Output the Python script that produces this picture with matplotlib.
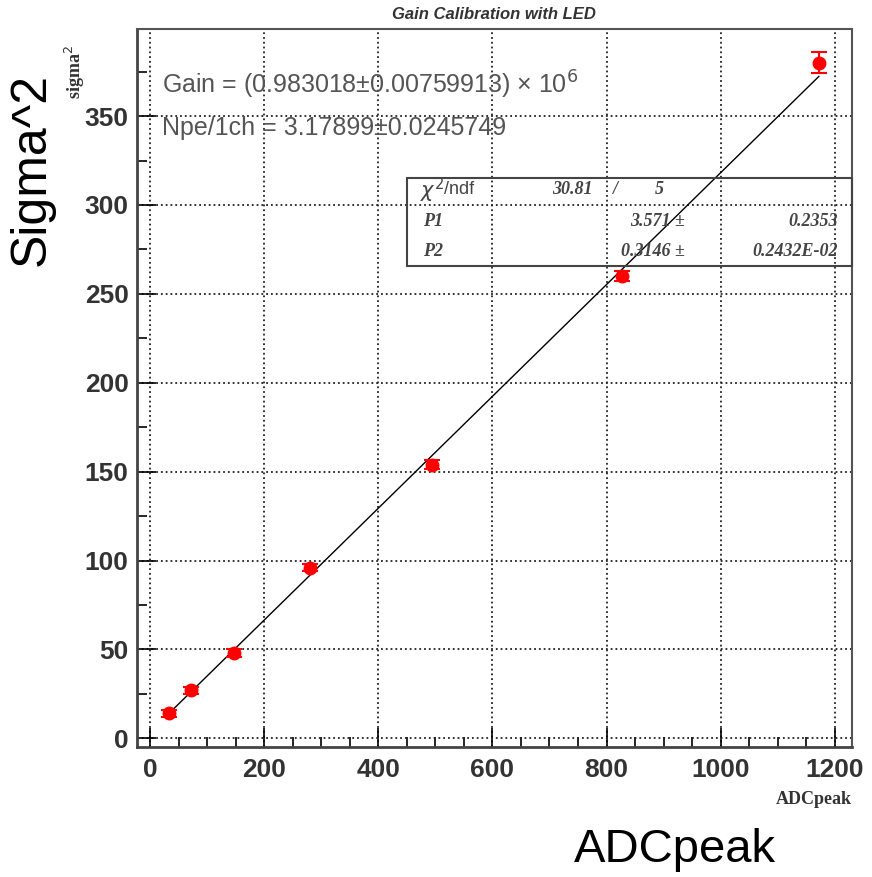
import matplotlib.pyplot as plt
import numpy as np

# data
adc_peak = [33, 72, 147, 280, 494, 827, 1172]
sigma_sq = [14, 27, 48, 96, 154, 260, 380]
sigma_err = [2, 2, 2, 2, 2.5, 3, 6]

# fit result (pol1): y = P1 + P2 * x
p1, p1_err = 3.571, 0.2353
p2, p2_err = 0.3146, 0.2432e-02
chi2, ndf = 30.81, 5

fig = plt.figure(figsize=(8.72, 8.77), dpi=100)
ax = fig.add_axes([0.157, 0.148, 0.820, 0.819])

# points with errors
ax.errorbar(adc_peak, sigma_sq, yerr=sigma_err, fmt='o', color='red',
            markersize=9, elinewidth=1.5, capsize=6, capthick=1.5, zorder=3)

# fit line
xf = np.array([adc_peak[0], adc_peak[-1]])
ax.plot(xf, p1 + p2 * xf, color='black', linewidth=1.0, zorder=2)

ax.set_xlim(-23, 1230)
ax.set_ylim(-5, 399)
ax.set_xticks(np.arange(0, 1201, 200))
ax.set_xticks(np.arange(0, 1201, 50), minor=True)
ax.set_yticks(np.arange(0, 351, 50))
ax.set_yticks(np.arange(0, 376, 25), minor=True)
ax.grid(True, which='major', color='#222222', linestyle=':', linewidth=1.3)
ax.tick_params(which='both', direction='in', top=False, right=False)
ax.tick_params(which='major', length=14, width=1.2)
ax.tick_params(which='minor', length=7, width=1.2)
for lab in ax.get_xticklabels() + ax.get_yticklabels():
    lab.set_fontfamily('Liberation Sans')
    lab.set_fontweight('bold')
    lab.set_fontsize(19)
    lab.set_color('#333333')
ax.tick_params(axis='x', pad=8)
ax.tick_params(axis='y', pad=6)
for side in ['left', 'bottom']:
    ax.spines[side].set_linewidth(2)
    ax.spines[side].set_color('#444444')
for side in ['top', 'right']:
    ax.spines[side].set_linewidth(1.5)
    ax.spines[side].set_color('#555555')

ax.set_title('Gain Calibration with LED', fontfamily='Liberation Sans',
             fontweight='bold', style='italic', fontsize=12, color='#333333', pad=7)

# fit summary text
txt_kw = dict(fontfamily='Liberation Sans', fontsize=18, color='#555555', transform=fig.transFigure)
fig.text(162 / 872, 1 - 85 / 877, 'Gain = (0.983018±0.00759913) × 10$^{6}$', va='center', **txt_kw)
fig.text(162 / 872, 1 - 128 / 877, 'Npe/1ch = 3.17899±0.0245749', va='center', **txt_kw)

# stats box
box = plt.Rectangle((407 / 872, 1 - 266 / 877), 445 / 872, 88 / 877, transform=fig.transFigure,
                    fill=False, edgecolor='#444444', linewidth=1.5)
fig.add_artist(box)
st = dict(fontfamily='Liberation Serif', fontweight='bold', style='italic', fontsize=13,
          color='#444444', va='center', transform=fig.transFigure)
fig.text(420 / 872, 1 - 190 / 877, r'$\chi^2$', fontsize=15, color='#444444', va='center',
         transform=fig.transFigure)
fig.text(444 / 872, 1 - 190 / 877, '/ndf', fontfamily='Liberation Sans', fontsize=13,
         color='#444444', va='center', transform=fig.transFigure)
fig.text(593 / 872, 1 - 190 / 877, f'{chi2:.2f}', ha='right', **st)
fig.text(612 / 872, 1 - 190 / 877, '/', **st)
fig.text(655 / 872, 1 - 190 / 877, f'{ndf}', **st)
fig.text(423 / 872, 1 - 222 / 877, 'P1', **st)
fig.text(685 / 872, 1 - 222 / 877, f'{p1:.3f} ±', ha='right', **st)
fig.text(838 / 872, 1 - 222 / 877, f'{p1_err:.4f}', ha='right', **st)
fig.text(423 / 872, 1 - 251 / 877, 'P2', **st)
fig.text(685 / 872, 1 - 251 / 877, f'{p2:.4f} ±', ha='right', **st)
fig.text(838 / 872, 1 - 251 / 877, '0.2432E-02', ha='right', **st)

# ROOT axis titles
fig.text(852 / 872, 1 - 800 / 877, 'ADCpeak', ha='right', va='center', fontfamily='Liberation Serif',
         fontweight='bold', fontsize=13, color='#333333')
fig.text(75 / 872, 1 - 72 / 877, r'sigma$^{2}$', ha='center', va='center', rotation=90,
         fontfamily='Liberation Serif', fontweight='bold', fontsize=13, color='#333333')

# big labels
fig.text(675 / 872, 1 - 850 / 877, 'ADCpeak', ha='center', va='center',
         fontfamily='Liberation Sans', fontsize=34)
fig.text(32 / 872, 1 - 170 / 877, 'Sigma^2', ha='center', va='center', rotation=90,
         fontfamily='Liberation Sans', fontsize=36)

fig.savefig('out.png', dpi=100)
